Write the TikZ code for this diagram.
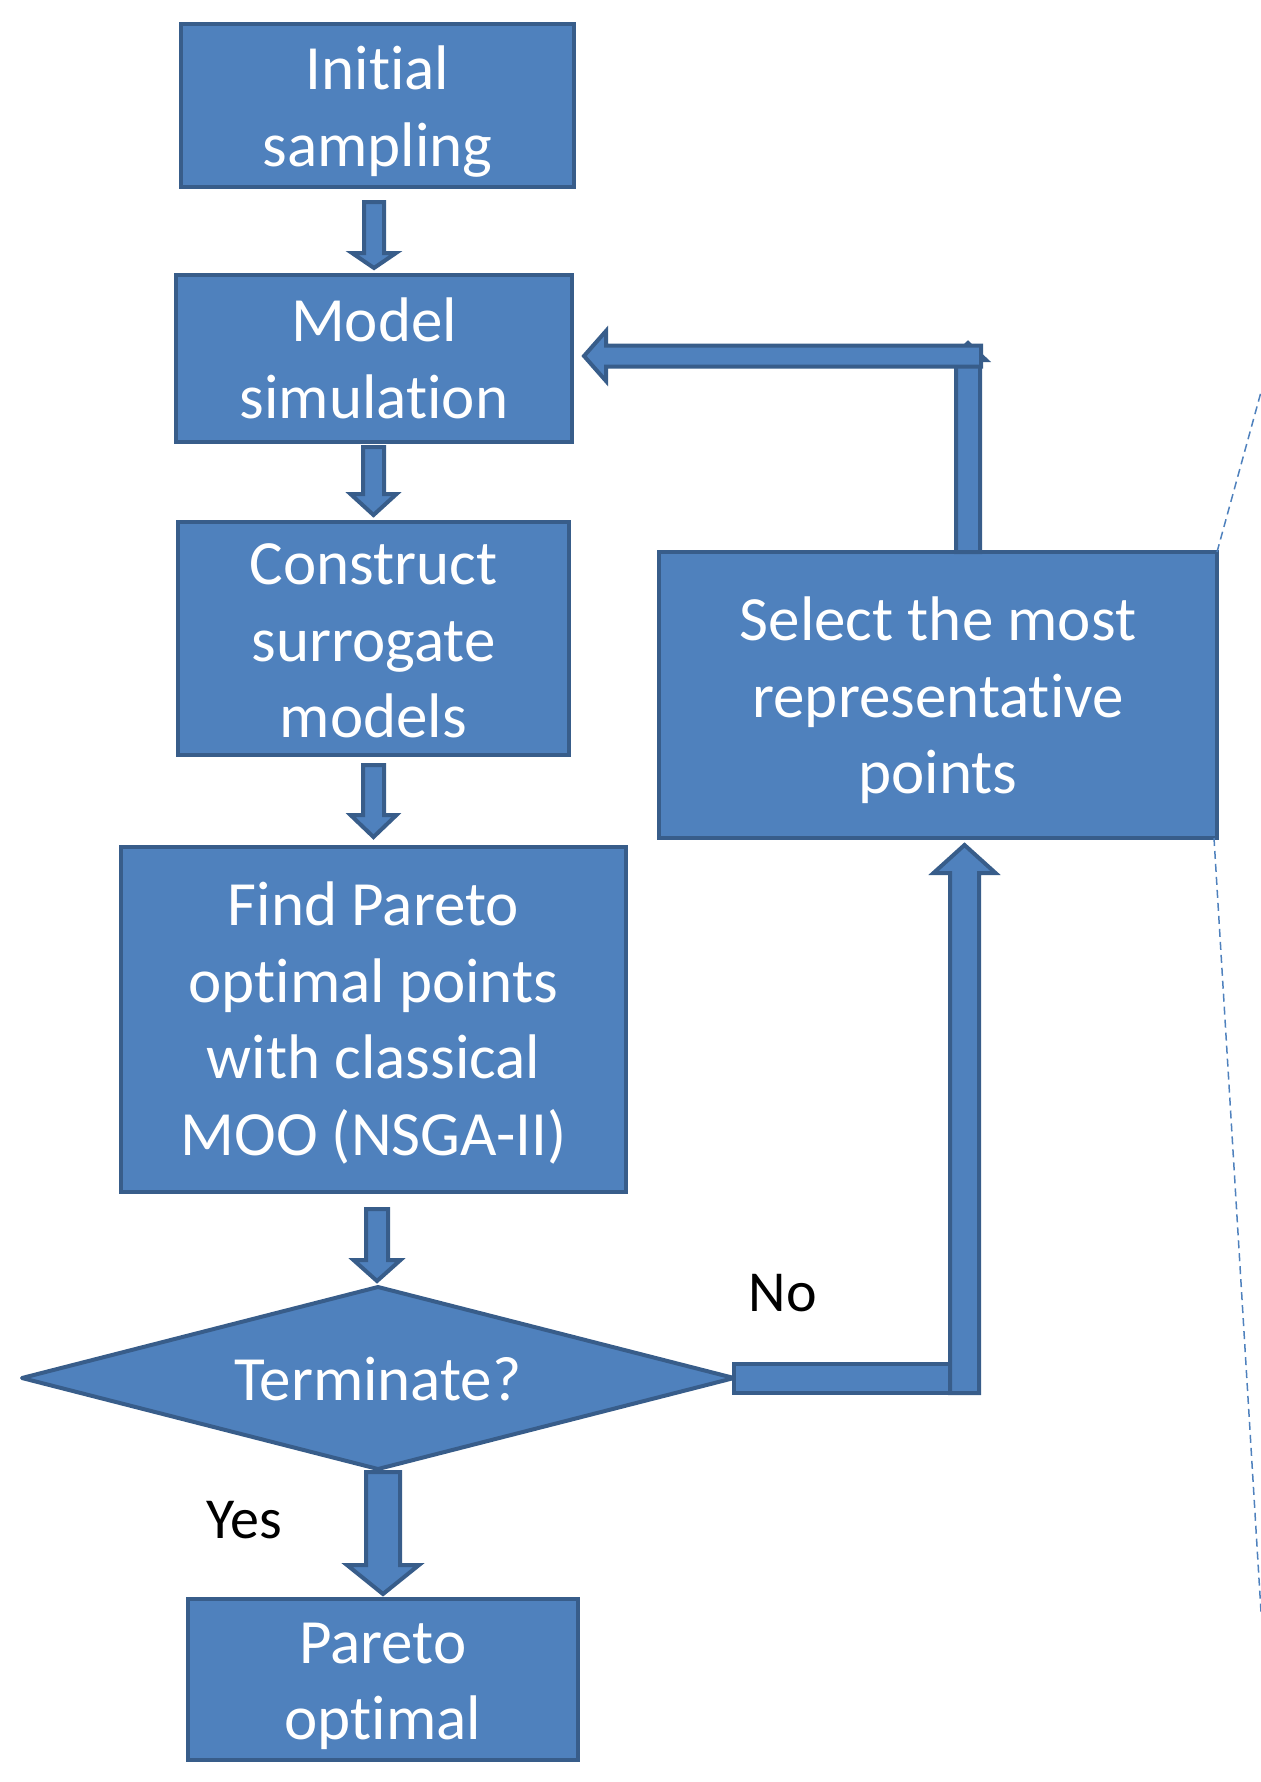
\documentclass[tikz,border=0pt]{standalone}
\usepackage{fontspec}
\setmainfont{Carlito}[Ligatures=NoCommon]
\usetikzlibrary{shapes.geometric,calc}
\definecolor{boxfill}{HTML}{4F81BD}
\definecolor{boxline}{HTML}{385D8A}
\tikzset{
 flowbox/.style={draw=boxline, fill=boxfill, line width=2pt, text=white, align=center, inner sep=0pt, outer sep=0pt, font=\fontsize{31.5}{38.3}\selectfont},
 decision/.style={flowbox, shape=diamond, aspect=3.9, line join=round},
 barrow/.style={draw=boxline, fill=boxfill, line width=2pt, line join=miter},
 answer/.style={text=black, font=\fontsize{29}{35}\selectfont, inner sep=0pt},
 zoomline/.style={draw=boxfill, line width=0.75pt, dash pattern=on 4pt off 2.5pt},
}
\newcommand\lowertext[2]{\raisebox{#1}{\vphantom{#2}}}
\newcommand\flowarrow[5]{%
 \path (#1) coordinate (ba-s) (#2) coordinate (ba-t);
 \path ($(ba-t)!#5!(ba-s)$) coordinate (ba-b);
 \draw[barrow] ($(ba-s)!#3!90:(ba-t)$) -- ($(ba-b)!#3!90:(ba-t)$) -- ($(ba-b)!#4!90:(ba-t)$) -- (ba-t) -- ($(ba-b)!#4!-90:(ba-t)$) -- ($(ba-b)!#3!-90:(ba-t)$) -- ($(ba-s)!#3!-90:(ba-t)$) -- cycle;}
\begin{document}
\begin{tikzpicture}[x=0.5pt, y=-0.5pt]
\useasboundingbox (0,0) rectangle (1261,1782);
% boxes
\node[flowbox, minimum width=196.5pt, minimum height=81.5pt] (init) at (377.5,105.5) {\lowertext{6pt}{l}Initial\\sampling};
\node[flowbox, minimum width=198pt, minimum height=83.5pt] (model) at (374,358.5) {Model\\simulation};
\node[flowbox, minimum width=195.5pt, minimum height=116.5pt] (construct) at (373.5,638.5) {\lowertext{2.5pt}{C}Construct\\surrogate\\models};
\node[flowbox, minimum width=252.5pt, minimum height=172.5pt] (find) at (373.5,1019.5) {\lowertext{3.5pt}{d}Find Pareto\\optimal points\\with classical\\MOO (NSGA-II)};
\node[decision, minimum width=356pt, minimum height=91pt] (term) at (378,1378) {\lowertext{2.5pt}{T}Terminate?};
\node[flowbox, minimum width=195pt, minimum height=80.5pt] (pareto) at (383,1679.5) {\lowertext{7pt}{P}Pareto\\optimal};
\node[flowbox, minimum width=279pt, minimum height=143pt] (select) at (938,695) {\lowertext{5.5pt}{l}Select the most\\representative\\points};
% labels
\node[answer] (nolabel) at (783,1293) {No};
\node[answer] (yeslabel) at (244,1520) {Yes};
% main downward arrows
\flowarrow{$(init.south)+(-3.5,15)$}{$(model.north)+(0,-7)$}{5pt}{11pt}{7.5pt}
\flowarrow{$(model.south)+(-0.5,5)$}{$(construct.north)+(0,-7)$}{5.25pt}{11.5pt}{10.5pt}
\flowarrow{$(construct.south)+(0,10)$}{$(find.north)+(0,-10)$}{5.25pt}{11.5pt}{11pt}
\flowarrow{$(find.south)+(3.5,17)$}{$(term.north)+(-1,-6)$}{5.5pt}{11.75pt}{10.5pt}
\flowarrow{$(term.south)+(5,3)$}{$(pareto.north)+(0,-5)$}{8.5pt}{18pt}{14.5pt}
% No branch
\coordinate (noturn) at ($(term.east -| select.south)+(26.5,1)$);
\draw[barrow] ($(term.east)+(0,-14)$) rectangle ($(noturn)+(13.5,14)$);
\flowarrow{$(noturn)+(0,14)$}{$(select.south)+(26.5,7)$}{7.25pt}{15.5pt}{14pt}
% loop back
\coordinate (corner) at ($(select.north)+(30,-209)$);
\flowarrow{$(select.north)+(30,0)$}{corner}{6pt}{9pt}{8.5pt}
\flowarrow{$(corner)+(13,13)$}{$(model.east)+(12,-2.5)$}{5.25pt}{12.5pt}{11pt}
% zoom lines
\coordinate (zoomtop) at ($(select.north east)+(44,-160)$);
\coordinate (zoombot) at ($(select.south east)+(44,774)$);
\draw[zoomline] (select.north east) -- (zoomtop);
\draw[zoomline] ($(select.south east)+(-3,0)$) -- (zoombot);
\end{tikzpicture}
\end{document}
